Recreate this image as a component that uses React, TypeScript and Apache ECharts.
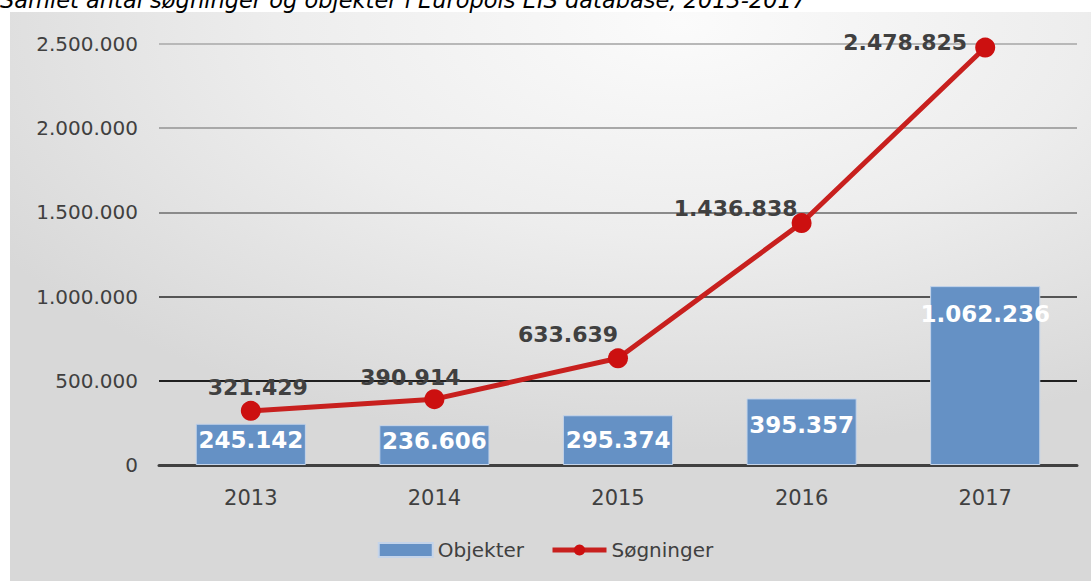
import React, { useEffect, useRef } from "react";
import * as echarts from "echarts";

const title = "Samlet antal søgninger og objekter i Europols EIS database, 2013-2017";
const years = ["2013", "2014", "2015", "2016", "2017"];
const objekter = [245142, 236606, 295374, 395357, 1062236];
const soegninger = [321429, 390914, 633639, 1436838, 2478825];
const yTicks = { min: 0, max: 2500000, interval: 500000 };

const fmt = (v: number) => String(Math.round(v)).replace(/\B(?=(\d{3})+(?!\d))/g, ".");

const FONT = "DejaVu Sans";
const DARK = "#404040";

export default function App() {
  const ref = useRef<HTMLDivElement>(null);
  useEffect(() => {
    if (!ref.current) return;
    const chart = echarts.init(ref.current, undefined, { renderer: "svg" });
    const lineOffsets: number[][] = [[7, 3], [-24, 4], [-50, 2], [-66, 11], [-80, 21]];
    const barDist = [5, 4, 13, 15, 16];
    chart.setOption({
      animation: false,
      backgroundColor: "#ffffff",
      textStyle: { fontFamily: FONT },
      graphic: [
        {
          type: "rect",
          z: -10,
          silent: true,
          shape: { x: 10, y: 12, width: 1081, height: 569 },
          style: {
            fill: {
              type: "radial",
              x: 0.62,
              y: 0.02,
              r: 0.75,
              colorStops: [
                { offset: 0, color: "#fbfbfb" },
                { offset: 0.5, color: "#ededed" },
                { offset: 1, color: "#d8d8d8" },
              ],
            },
          },
        },
        {
          type: "text",
          x: 0,
          y: 11,
          silent: true,
          style: {
            text: title,
            fill: "#000000",
            font: `italic 22.5px "${FONT}"`,
            verticalAlign: "bottom",
            align: "left",
          },
        },
      ],
      grid: { left: 159, right: 14, top: 44, bottom: 116, containLabel: false },
      legend: {
        bottom: 16,
        left: "center",
        itemWidth: 54,
        itemHeight: 14,
        itemGap: 26,
        textStyle: { color: DARK, fontSize: 20, fontFamily: FONT },
        data: [
          { name: "Objekter", icon: "rect" },
          { name: "Søgninger", lineStyle: { width: 5, color: "#c8201e" } },
        ],
      },
      xAxis: {
        type: "category",
        data: years,
        axisLine: { lineStyle: { color: "#404040", width: 3 } },
        axisTick: { show: false },
        axisLabel: { color: DARK, fontSize: 21, margin: 22, fontFamily: FONT },
      },
      yAxis: {
        type: "value",
        min: yTicks.min,
        max: yTicks.max,
        interval: yTicks.interval,
        axisLine: { show: false },
        axisTick: { show: false },
        axisLabel: { color: DARK, fontSize: 20, margin: 21, formatter: (v: number) => fmt(v), fontFamily: FONT },
        splitLine: {
          lineStyle: {
            color: ["#404040", "#202020", "#555555", "#8a8a8a", "#a8a8a8", "#b8b8b8"],
            width: 2,
          },
        },
      },
      series: [
        {
          name: "Objekter",
          type: "bar",
          barWidth: "60%",
          itemStyle: { color: "#6591c5", borderColor: "#c4d4ea", borderWidth: 1 },
          data: objekter.map((v, i) => ({
            value: v,
            label: { distance: barDist[i] },
          })),
          label: {
            show: true,
            position: "insideTop",
            color: "#ffffff",
            fontWeight: "bold",
            fontSize: 23,
            fontFamily: FONT,
            formatter: (p: any) => fmt(p.value),
          },
        },
        {
          name: "Søgninger",
          type: "line",
          data: soegninger.map((v, i) => ({
            value: v,
            label: { offset: lineOffsets[i] },
          })),
          lineStyle: { color: "#c8201e", width: 5 },
          itemStyle: { color: "#cc1010" },
          symbol: "circle",
          symbolSize: 20,
          z: 5,
          label: {
            show: true,
            position: "top",
            distance: 5,
            color: DARK,
            fontWeight: "bold",
            fontSize: 22,
            fontFamily: FONT,
            formatter: (p: any) => fmt(p.value),
          },
        },
      ],
    });
    return () => chart.dispose();
  }, []);
  return (
    <div
      ref={ref}
      style={{ position: "absolute", left: 0, top: 0, width: 1091, height: 581 }}
    />
  );
}
